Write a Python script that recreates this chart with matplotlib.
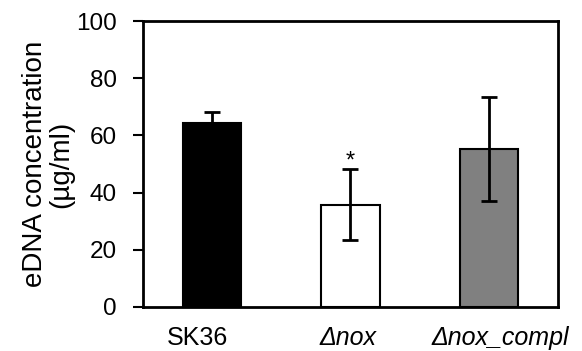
import matplotlib
matplotlib.use('Agg')
import matplotlib.pyplot as plt

plt.rcParams['font.family'] = ['Liberation Sans', 'DejaVu Sans']

# data
strains = ['SK36', 'Δnox', 'Δnox_compl']
edna = [64.4, 35.7, 55.1]
edna_err = [3.9, 12.4, 18.2]
colors = ['black', 'white', '#808080']
signif = ['', '*', '']

fig = plt.figure(figsize=(5.82, 3.51), dpi=100)
ax = fig.add_axes([0.2457, 0.1254, 0.713, 0.8146])

x = list(range(len(strains)))
ax.bar(x, edna, width=0.42, color=colors, edgecolor='black', linewidth=1.5, zorder=2)
ax.errorbar(x, edna, yerr=edna_err, fmt='none', ecolor='black',
            elinewidth=2, capsize=6, capthick=2, zorder=3)

for i in x:
    if signif[i]:
        ax.text(i, edna[i] + edna_err[i] - 1.0, signif[i], ha='center', va='bottom', fontsize=17)

ax.set_xlim(-0.5, 2.5)
ax.set_ylim(0, 100)
ax.set_yticks([0, 20, 40, 60, 80, 100])
# labels in the original sit slightly off the bar centres
ax.set_xticks([-0.11, 0.98, 2.08])
ax.set_xticklabels(strains, fontsize=18)
for lab in ax.get_xticklabels()[1:]:
    lab.set_style('italic')
ax.tick_params(axis='y', labelsize=17.5, length=7, width=1.5, direction='out', pad=12)
ax.tick_params(axis='x', length=0, pad=14)
for s in ax.spines.values():
    s.set_linewidth(2)
ax.set_ylabel('eDNA concentration\n(µg/ml)', fontsize=20, labelpad=1, linespacing=1.0)

fig.savefig('out.png', dpi=100)
